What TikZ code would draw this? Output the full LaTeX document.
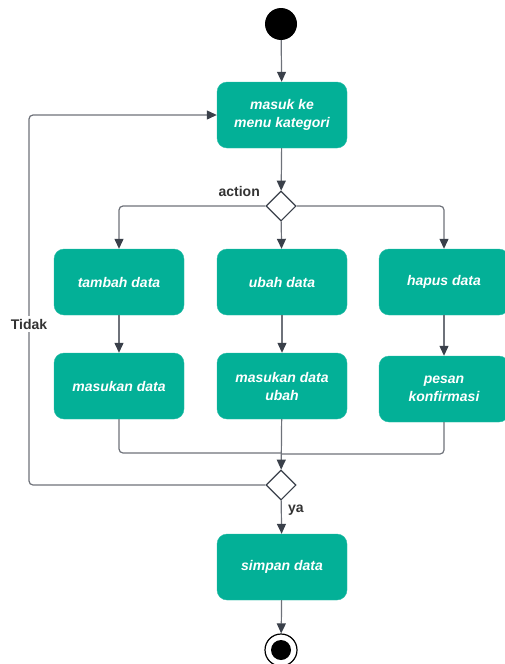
\documentclass[tikz,border=0pt]{standalone}
\usepackage{fontspec}
\setmainfont{Liberation Sans}
\usetikzlibrary{arrows.meta,shapes.geometric}
\definecolor{actfill}{RGB}{3,176,151}
\definecolor{wire}{RGB}{110,114,122}
\definecolor{tipc}{RGB}{58,64,74}
\definecolor{lbl}{RGB}{51,51,51}
\tikzset{
  act/.style={rectangle, rounded corners=10pt, fill=actfill, draw=actfill!85!white,
    minimum width=130pt, minimum height=66pt, inner sep=2pt,
    align=center, text=white, font=\fontsize{14}{18}\selectfont\bfseries\itshape},
  decide/.style={diamond, draw=tipc, fill=white, line width=1.1pt,
    minimum width=30pt, minimum height=30pt, inner sep=0pt},
  flow/.style={draw=wire, line width=1.2pt, rounded corners=4pt},
  tip/.style={-{Triangle[length=10pt,width=9pt,color=tipc]}},
  guard/.style={text=lbl, font=\fontsize{14}{16}\selectfont\bfseries, inner sep=1pt}
}
\begin{document}
\begin{tikzpicture}[x=1pt,y=-1pt]
\useasboundingbox (0,0) rectangle (505,664);

% start and end markers
\node[circle, fill=black, minimum size=32pt, inner sep=0pt] (start) at (281,24) {};
\node[circle, draw=black, line width=1.2pt, fill=white, minimum size=32pt, inner sep=0pt] (finish) at (281,650) {};
\node[circle, fill=black, minimum size=20pt, inner sep=0pt] (finishdot) at (281,650) {};

% activities
\node[act] (menu)    at (282,115) {masuk ke\\menu kategori};
\node[act] (tambah)  at (119,282) {tambah data};
\node[act] (ubah)    at (282,282) {ubah data};
\node[act] (hapus)   at (444,282) {hapus data};
\node[act] (masukan) at (119,386) {masukan data};
\node[act] (masukub) at (282,386) {masukan data\\ubah};
\node[act] (pesan)   at (444,389) {pesan\\konfirmasi};
\node[act] (simpan)  at (282,567) {simpan data};

% decisions
\node[decide] (pilih) at (281,206) {};
\node[decide] (cek)   at (281,485) {};

% corner points of the merge and loop-back wires
\coordinate (mergeL) at (119,453);
\coordinate (mergeR) at (444,454);
\coordinate (loopB)  at (29,485);
\coordinate (loopT)  at (29,115);

% main flow
\draw[flow, tip] (start) -- (menu);
\draw[flow, tip] (menu) -- (pilih);
\draw[flow, tip] (pilih.west) -| (tambah.north);
\draw[flow, tip] (pilih) -- (ubah);
\draw[flow, tip] (pilih.east) -| (hapus.north);
\draw[flow, tip] (tambah) -- (masukan);
\draw[flow, tip] (ubah) -- (masukub);
\draw[flow, tip] (hapus) -- (pesan);
\draw[flow] (masukan.south) -- (mergeL) -- (281,453);
\draw[flow] (pesan.south) -- (mergeR) -- (281,454);
\draw[flow, tip] (masukub) -- (cek);
\draw[flow, tip] (cek) -- (simpan);
\draw[flow, tip] (simpan) -- (finish);
\draw[flow, tip] (cek.west) -- (loopB) -- (loopT) -- (menu.west);

% guard labels
\node[guard, anchor=east] (lblaction) at (261,191) {action};
\node[guard, fill=white, inner sep=3pt] (lbltidak) at (29,324) {Tidak};
\node[guard, anchor=west] (lblya) at (287,510) {ya};
\end{tikzpicture}
\end{document}
